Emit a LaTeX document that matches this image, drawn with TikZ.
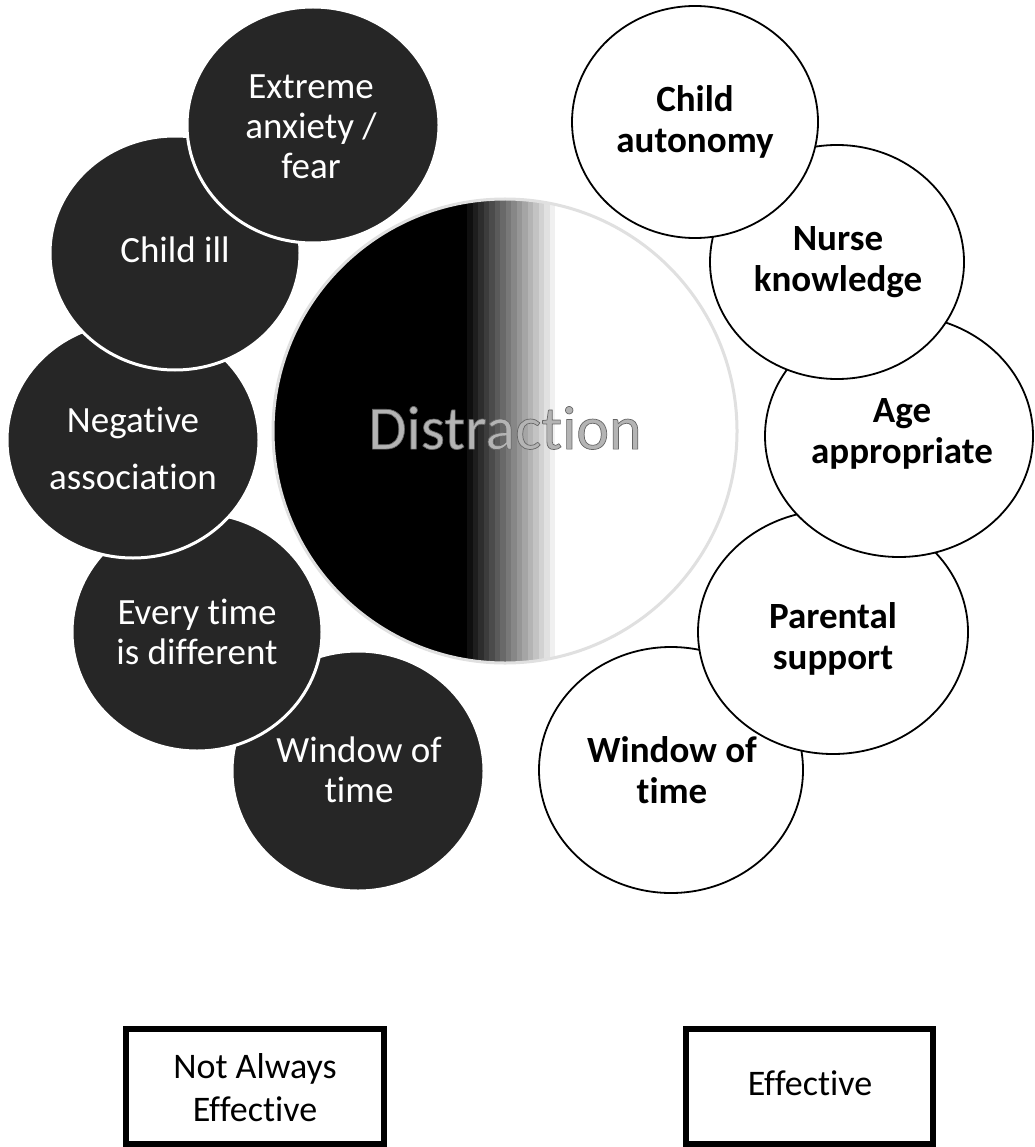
\documentclass[tikz,border=0pt]{standalone}
\usepackage{fontspec}
\setmainfont{Carlito}[Ligatures=NoCommon]
\usetikzlibrary{shapes.geometric}
\definecolor{darkfill}{HTML}{262626}
\definecolor{ctrline}{HTML}{E0E0E0}
\definecolor{disttext}{HTML}{B4B4B4}
\begin{document}
\begin{tikzpicture}[x=1pt,y=-1pt,
  darkc/.style={ellipse, fill=darkfill, draw=white, line width=3pt, inner sep=0pt, outer sep=0pt},
  whitec/.style={ellipse, fill=white, draw=black, line width=1.8pt, inner sep=0pt, outer sep=0pt},
  darkt/.style={text=white, font=\fontsize{37}{40}\selectfont, align=center, inner sep=0pt},
  whitet/.style={text=black, font=\fontsize{37}{41}\selectfont\bfseries, align=center, inner sep=0pt},
  boxc/.style={draw=black, line width=6pt, inner sep=0pt, outer sep=0pt},
  boxt/.style={text=black, font=\fontsize{36}{43}\selectfont, align=center, inner sep=0pt}]
\fill[white] (0,0) rectangle (1034,1147);
\useasboundingbox (0,0) rectangle (1034,1147);

% centre circle with banded gradient
\node[circle, minimum size=464pt, inner sep=0pt, outer sep=0pt] (ctr) at (505,431) {};
\begin{scope}
  \clip (ctr.center) circle [radius=232pt];
  \fill[black] (270,195) rectangle (467.5,670);
  \foreach \i in {0,...,15}{
    \pgfmathsetmacro\g{100-100*(\i+1)/17}
    \fill[black!\g] ({467+\i*5.5},195) rectangle ({467+(\i+1)*5.5+0.4},670);
  }
\end{scope}
\draw[ctrline, line width=3pt] (ctr.center) circle [radius=232pt];

% dark circles (bottom to top)
\node[darkc, minimum width=252pt, minimum height=240pt] (dw) at (358,771) {};
\node[darkc, minimum width=250pt, minimum height=238pt] (de) at (197,632) {};
\node[darkc, minimum width=252pt, minimum height=236pt] (dn) at (133,440) {};
\node[darkc, minimum width=250pt, minimum height=234pt] (dc) at (175,253) {};
\node[darkc, minimum width=252pt, minimum height=236pt] (dx) at (313,125) {};

% white circles (bottom to top)
\node[whitec, minimum width=264pt, minimum height=246pt] (ww) at (671,770) {};
\node[whitec, minimum width=270pt, minimum height=244pt] (wp) at (833,632) {};
\node[whitec, minimum width=268pt, minimum height=242pt] (wa) at (899,436) {};
\node[whitec, minimum width=254pt, minimum height=234pt] (wn) at (837,262) {};
\node[whitec, minimum width=246pt, minimum height=232pt] (wc) at (695,122) {};

% texts
\node[darkt] (tdx) at (311,127) {Extreme\\anxiety /\\fear};
\node[darkt] (tdc) at (175,250) {Child ill};
\node[darkt, font=\fontsize{37}{57}\selectfont] (tdn) at (133,448) {Negative\\association};
\node[darkt] (tde) at (197,632) {Every time\\is different};
\node[darkt] (tdw) at (359,770) {Window of\\time};

\node[whitet] (twc) at (695,122) {Child\\autonomy};
\node[whitet] (twn) at (838,262) {Nurse\\knowledge};
\node[whitet] (twa) at (902,434) {Age\\appropriate};
\node[whitet] (twp) at (833,639) {Parental\\support};
\node[whitet] (tww) at (672,770) {Window of\\time};

% boxes
\draw[boxc] (126,1029) rectangle (384,1144);
\node[boxt] (b1) at (255,1088) {Not Always\\Effective};
\draw[boxc] (686,1029) rectangle (933,1144);
\node[boxt] (b2) at (810,1083) {Effective};

% centre title
{\node[inner sep=0pt] (dist) at (505,428) {\fontsize{62}{70}\selectfont\color{disttext}\special{pdf:literal 2 Tr 0.7 w 0.4 0.4 0.4 RG}Distraction\special{pdf:literal 0 Tr}};}
\end{tikzpicture}
\end{document}
